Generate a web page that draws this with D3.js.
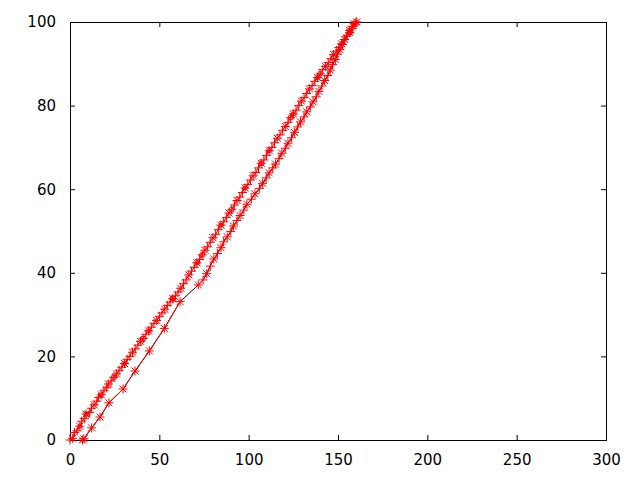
<!DOCTYPE html>
<html>
<head>
<meta charset="utf-8">
<script src="https://cdn.jsdelivr.net/npm/d3@7"></script>
<style>
  body { margin: 0; background: #fff; }
  svg { display: block; }
  .tick text { font-family: "DejaVu Sans", sans-serif; font-size: 15px; fill: #000; }
</style>
</head>
<body>
<div id="chart"></div>
<script>
var svgWidth = 640;
var svgHeight = 480;

var margin = { top: 22, right: 34, bottom: 40, left: 70 };

var width = svgWidth - margin.left - margin.right;
var height = svgHeight - margin.top - margin.bottom;

// tick values
var xTicks = [0, 50, 100, 150, 200, 250, 300];
var yTicks = [0, 20, 40, 60, 80, 100];

// upper curve (dense)
var upperX = [0, 1.5, 2.5, 4, 5.5, 6.5, 8, 9, 11, 12, 13.5, 15, 16, 17.5, 19, 20.5, 21.5, 23, 24.5, 26,
  27.5, 29, 30.5, 32, 33.5, 35, 36.5, 38, 39.5, 41, 42.5, 44, 45.5, 47, 48.5, 50, 51.5, 53, 54.5, 56,
  57.5, 59, 60.5, 62, 63.5, 65, 66.5, 68, 69.5, 71, 72.5, 74, 75.5, 77, 78.5, 80, 81.5, 83, 84.5, 86,
  87.5, 89, 90.5, 92, 93.5, 95, 96.5, 98, 99.5, 101, 102.5, 104, 105.5, 107, 108.5, 110, 111.5, 113, 114.5, 116,
  117.5, 119, 120.5, 122, 123.5, 125, 126.5, 128, 129.5, 131, 132.5, 134, 135.5, 137, 138.5, 140, 141.5, 143, 144.5, 146,
  147.5, 149, 150.5, 152, 153.5, 155, 156.5, 158, 159.5, 160.5];
var upperY = [0, 0.4, 1.8, 2.2, 3.3, 4.5, 5.1, 6.2, 6.6, 7.6, 8.4, 9.3, 10.2, 10.8, 11.9, 12.5, 13.4, 14.1, 15.0, 15.8,
  16.7, 17.4, 18.3, 19.3, 20.0, 21.0, 21.8, 22.7, 23.6, 24.3, 25.3, 26.1, 27.0, 27.9, 28.6, 29.6, 30.4, 31.3, 32.2, 33.0,
  33.8, 34.5, 35.4, 36.3, 37.4, 38.3, 39.5, 40.4, 41.3, 42.4, 43.2, 44.3, 45.4, 46.2, 47.3, 48.4, 49.2, 50.3, 51.4, 52.2,
  53.2, 54.3, 55.1, 56.2, 57.3, 58.1, 59.2, 60.3, 61.1, 62.2, 63.2, 64.0, 65.1, 66.2, 67.0, 68.1, 69.2, 70.0, 71.1, 72.2,
  73.0, 74.1, 75.0, 76.0, 77.1, 78.0, 78.9, 80.0, 81.1, 81.9, 82.9, 84.0, 84.8, 85.8, 86.7, 87.6, 88.6, 89.4, 90.3, 91.2,
  92.2, 93.0, 93.9, 94.8, 95.8, 96.6, 97.5, 98.4, 99.3, 100];

// lower curve
var lowerX = [7, 7.8, 12.1, 16.8, 21.8, 29.7, 36.4, 44.4, 52.8, 61.6,
  71.8, 74.5, 76.5, 78.5, 80.5, 82.5, 84.5, 86, 88, 90, 91.5, 93.5, 95.2, 97.3, 99, 101.5, 103.5, 106, 107.8, 109.8,
  111.5, 113.5, 115, 117, 118.6, 120.5, 122, 124, 125.6, 127.5, 129, 131, 132.5, 134.5, 136, 137.8, 139.3, 141, 142.5, 144.3,
  145.7, 147, 148.5, 149.8, 151, 152.5, 153.8, 155.2, 156.5, 157.8, 159, 160];
var lowerY = [0, 0.3, 2.9, 5.5, 8.9, 12.2, 16.5, 21.3, 26.7, 33.1,
  37.1, 38.3, 39.8, 41.6, 43.3, 44.6, 46.0, 47.4, 48.6, 49.9, 51.2, 52.5, 53.7, 55.0, 56.4, 57.6, 58.9, 60.2, 61.4, 62.7,
  63.9, 65.1, 66.0, 67.3, 68.6, 69.8, 71.0, 72.3, 73.6, 74.9, 76.1, 77.3, 78.5, 79.7, 80.9, 82.1, 83.4, 84.7, 86.0, 87.2,
  88.5, 89.8, 91.0, 92.3, 93.4, 94.6, 95.8, 96.9, 98.0, 98.9, 99.6, 100];

var upper = upperX.map(function(x, i) { return { x: x, y: upperY[i] }; });
var lower = lowerX.map(function(x, i) { return { x: x, y: lowerY[i] }; });

var svg = d3.select("#chart")
  .append("svg")
  .attr("width", svgWidth)
  .attr("height", svgHeight);

var chartGroup = svg.append("g")
  .attr("transform", `translate(${margin.left},${margin.top})`);

var xScale = d3.scaleLinear().domain([0, 300]).range([0, width]);
var yScale = d3.scaleLinear().domain([0, 100]).range([height, 0]);

// axes, ticks pointing inward, mirrored on top/right
chartGroup.append("g")
  .attr("transform", `translate(0, ${height})`)
  .call(d3.axisBottom(xScale).tickValues(xTicks).tickSize(-5).tickPadding(14).tickFormat(d3.format("d")));
chartGroup.append("g")
  .call(d3.axisTop(xScale).tickValues(xTicks).tickSize(-5).tickFormat(""));
chartGroup.append("g")
  .call(d3.axisLeft(yScale).tickValues(yTicks).tickSize(-5).tickPadding(14).tickFormat(d3.format("d")));
chartGroup.append("g")
  .attr("transform", `translate(${width}, 0)`)
  .call(d3.axisRight(yScale).tickValues(yTicks).tickSize(-5).tickFormat(""));

chartGroup.selectAll(".domain").attr("stroke", "#000").attr("stroke-width", 1);
chartGroup.selectAll(".tick line").attr("stroke", "#000");

var line = d3.line().x(d => xScale(d.x)).y(d => yScale(d.y));

// black line under lower curve
chartGroup.append("path")
  .datum(lower)
  .attr("d", line)
  .attr("fill", "none")
  .attr("stroke", "#000")
  .attr("stroke-width", 1);

// red lines (lower has a gap where the black shows through)
chartGroup.append("path")
  .datum(lower.slice(0, 10))
  .attr("d", line)
  .attr("fill", "none")
  .attr("stroke", "#ff0000");
chartGroup.append("path")
  .datum(lower.slice(10))
  .attr("d", line)
  .attr("fill", "none")
  .attr("stroke", "#ff0000");
chartGroup.append("path")
  .datum(upper)
  .attr("d", line)
  .attr("fill", "none")
  .attr("stroke", "#ff0000");

function marker(sel, type) {
  var s = 4.5;
  var p = type === "+" ? `M${-s},0H${s}M0,${-s}V${s}`
        : type === "x" ? `M${-s+1},${-s+1}L${s-1},${s-1}M${-s+1},${s-1}L${s-1},${-s+1}`
        : type === "o" ? d3.symbol(d3.symbolCircle, 12)()
        : `M-2,-2H2V2H-2Z`;
  sel.append("path")
    .attr("d", p)
    .attr("fill", "none")
    .attr("stroke", "#ff0000")
    .attr("stroke-width", 1);
}

var upperPts = chartGroup.append("g").selectAll("g")
  .data(upper).enter().append("g")
  .attr("transform", d => `translate(${xScale(d.x)},${yScale(d.y)})`);
upperPts.each(function(d, i) {
  var g = d3.select(this);
  marker(g, "+");
  if (i % 3 === 1) marker(g, "x");
  if (i % 9 === 4) marker(g, "o");
  if (i % 11 === 7) marker(g, "s");
});

var lowerPts = chartGroup.append("g").selectAll("g")
  .data(lower).enter().append("g")
  .attr("transform", d => `translate(${xScale(d.x)},${yScale(d.y)})`);
lowerPts.each(function(d, i) {
  var g = d3.select(this);
  marker(g, "+");
  if (i % 2 === 0 || i < 10) marker(g, "x");
});
</script>
</body>
</html>
